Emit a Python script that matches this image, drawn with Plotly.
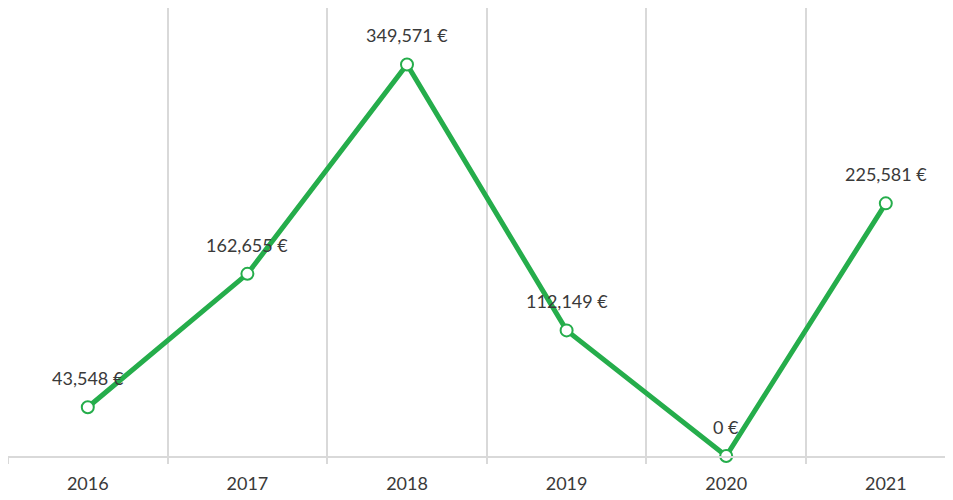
import plotly.graph_objects as go

years = ["2016", "2017", "2018", "2019", "2020", "2021"]
amounts = [43548, 162655, 349571, 112149, 0, 225581]
amount_labels = ["43,548 €", "162,655 €", "349,571 €", "112,149 €", "0 €", "225,581 €"]

green = "#25ad4b"
grid = "#d9d9d9"
text_color = "#3a3a3a"

fig = go.Figure()
fig.add_trace(go.Scatter(
    x=years, y=amounts, mode="lines+markers",
    line=dict(color=green, width=5),
    marker=dict(size=12, color="white", line=dict(color=green, width=2)),
    cliponaxis=False,
    hoverinfo="x+y",
))

# data labels above each point (x given as category index)
for i, (val, lab) in enumerate(zip(amounts, amount_labels)):
    fig.add_annotation(x=i, y=val, text=lab, showarrow=False, yshift=29,
                       font=dict(family="Lato", size=18, color=text_color))

# page body has an 8px margin, so the figure is sized to fit the window
fig.update_layout(
    width=945, height=492,
    margin=dict(l=0, r=0, t=0, b=44),
    plot_bgcolor="white", paper_bgcolor="white",
    showlegend=False,
    font=dict(family="Lato", size=18, color=text_color),
)
fig.update_xaxes(
    type="category", range=[-0.5, 5.421], tickson="boundaries",
    showgrid=True, gridcolor=grid, gridwidth=1.5,
    showline=True, linecolor=grid, linewidth=2,
    ticks="outside", ticklen=6, tickcolor=grid, tickwidth=1.5,
    ticklabelstandoff=10,
    tickfont=dict(family="Lato", size=18, color=text_color),
)
fig.update_yaxes(
    range=[0, 400000], showgrid=False, showticklabels=False,
    zeroline=False, showline=False,
)

fig.write_html("out.html")
